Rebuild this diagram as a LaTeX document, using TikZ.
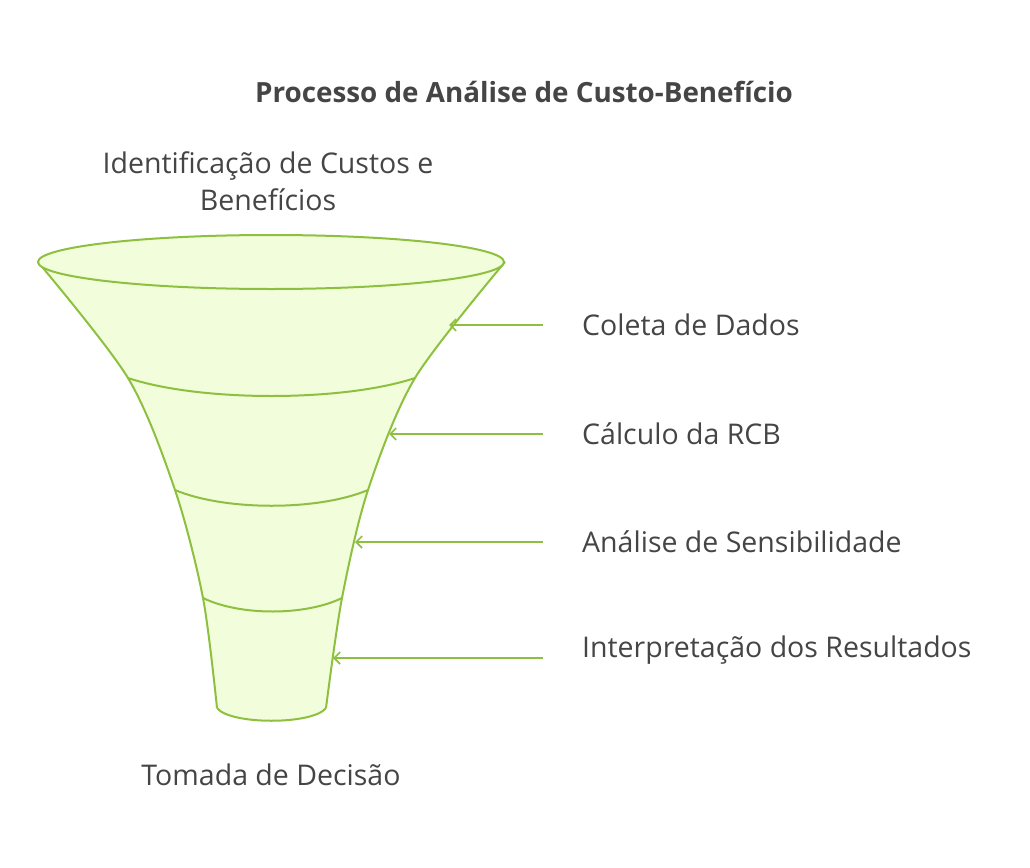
\documentclass[tikz,border=0pt]{standalone}
\usepackage{fontspec}
\setmainfont{Open Sans}
\usetikzlibrary{arrows.meta}
\definecolor{fg}{HTML}{8DC03F}
\definecolor{fl}{HTML}{F2FDDB}
\definecolor{tx}{HTML}{454545}
\tikzset{
 lbl/.style={anchor=west,text=tx,font=\fontsize{28.5}{34}\selectfont,inner sep=0},
 arr/.style={draw=fg,line width=1.6pt,-{Straight Barb[length=6pt,width=12pt]}},
 band/.style={draw=fg,line width=2pt}
}
\begin{document}
\begin{tikzpicture}[x=1pt,y=-1pt]
\useasboundingbox (0,0) rectangle (1030,867);
\node[text=tx,font=\fontsize{27.8}{33}\selectfont\bfseries] (title) at (524,92) {Processo de Análise de Custo-Benefício};
\node[text=tx,font=\fontsize{28.5}{37}\selectfont,align=center] (top) at (268,181) {Identificação de Custos e\\Benefícios};
\node[text=tx,font=\fontsize{28.5}{34}\selectfont] (bot) at (271,775) {Tomada de Decisão};
% body
\path[fill=fl] plot[smooth] coordinates {(38,262)(128,378)(175,490)(203,598)(217,708)}
  .. controls (230,725) and (313,725) .. (326,708)
  -- plot[smooth] coordinates {(326,708)(342,598)(368,490)(415,378)(505,262)} -- cycle;
\draw[band] plot[smooth] coordinates {(38,262)(128,378)(175,490)(203,598)(217,708)};
\draw[band] plot[smooth] coordinates {(326,708)(342,598)(368,490)(415,378)(505,262)};
\draw[band] (128,378) .. controls (200,402) and (343,402) .. (415,378);
\draw[band] (175,490) .. controls (225,511) and (318,511) .. (368,490);
\draw[band] (203,598) .. controls (240,616) and (305,616) .. (342,598);
\draw[band] (217,708) .. controls (230,725) and (313,725) .. (326,708);
\draw[band,fill=fl] (271,262) ellipse [x radius=233,y radius=27];
% labels
\node[lbl] (l1) at (582,325) {Coleta de Dados};
\node[lbl] (l2) at (582,434) {Cálculo da RCB};
\node[lbl] (l3) at (582,542) {Análise de Sensibilidade};
\node[lbl] (l4) at (582,650) {Interpretação dos Resultados};
\coordinate (t1) at (449,325); \coordinate (t2) at (389,434);
\coordinate (t3) at (355,542); \coordinate (t4) at (333,658);
\draw[arr] (543,325) -- (t1);
\draw[arr] (543,434) -- (t2);
\draw[arr] (543,542) -- (t3);
\draw[arr] (543,658) -- (t4);
\end{tikzpicture}
\end{document}
